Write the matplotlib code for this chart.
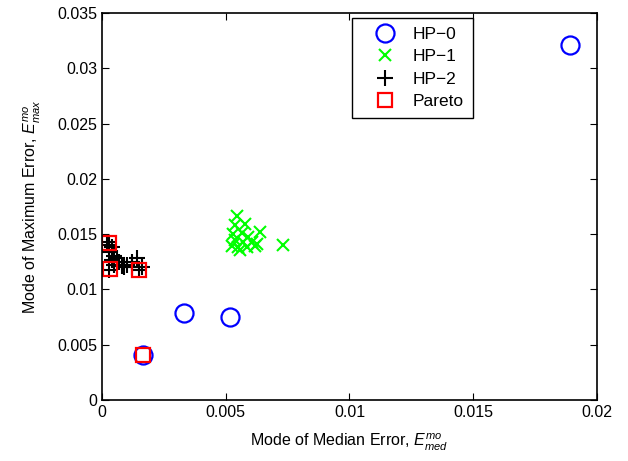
# -*- coding: utf-8 -*-
import numpy as np
import matplotlib
matplotlib.use("Agg")
import matplotlib.pyplot as plt

plt.rcParams['font.family'] = ['Liberation Sans', 'DejaVu Sans']
plt.rcParams['mathtext.fontset'] = 'custom'
plt.rcParams['mathtext.it'] = 'Liberation Sans:italic'
plt.rcParams['mathtext.rm'] = 'Liberation Sans'

# HP-0
hp0_x = [0.01891, 0.00331, 0.00517, 0.00165]
hp0_y = [0.0321, 0.00787, 0.0075, 0.00407]

# HP-1
hp1_x = [0.00544, 0.00537, 0.00578, 0.00638, 0.00531, 0.00564, 0.00591, 0.00537,
         0.00571, 0.00605, 0.00625, 0.00524, 0.00551, 0.00585, 0.00618, 0.00558, 0.00733]
hp1_y = [0.0166, 0.0158, 0.0159, 0.0152, 0.0150, 0.0151, 0.0147, 0.0145,
         0.0143, 0.0143, 0.0141, 0.0139, 0.0138, 0.0138, 0.0139, 0.0136, 0.0140]

# HP-2
hp2_x = [0.0002, 0.0003, 0.0004, 0.0003, 0.0005, 0.0004, 0.0006, 0.0007, 0.0005,
         0.0008, 0.0010, 0.0012, 0.0012, 0.0014, 0.0015, 0.0003, 0.0016, 0.0009]
hp2_y = [0.0143, 0.0140, 0.0138, 0.0134, 0.0130, 0.0127, 0.0128, 0.0125, 0.0122,
         0.0121, 0.0122, 0.0125, 0.0120, 0.0128, 0.0118, 0.0118, 0.0120, 0.0120]

# Pareto
par_x = [0.00028, 0.00032, 0.0015, 0.00165]
par_y = [0.0142, 0.01184, 0.0118, 0.00407]

fig = plt.figure(figsize=(6.28, 4.61), dpi=100)
ax = fig.add_axes([0.1624, 0.1323, 0.7882, 0.8395])

ax.plot(hp0_x, hp0_y, 'o', mfc='none', mec='blue', mew=1.6, ms=13, label='HP\u22120')
ax.plot(hp1_x, hp1_y, 'x', color=(0, 1, 0), mew=1.5, ms=9, label='HP\u22121')
ax.plot(hp2_x, hp2_y, '+', color='black', mew=1.5, ms=11, label='HP\u22122')
ax.plot(par_x, par_y, 's', mfc='none', mec='red', mew=1.6, ms=10, label='Pareto')

ax.set_xlim(0, 0.02)
ax.set_ylim(0, 0.035)
ax.set_xticks([0, 0.005, 0.01, 0.015, 0.02])
ax.set_xticklabels(['0', '0.005', '0.01', '0.015', '0.02'])
ax.set_yticks([0, 0.005, 0.01, 0.015, 0.02, 0.025, 0.03, 0.035])
ax.set_yticklabels(['0', '0.005', '0.01', '0.015', '0.02', '0.025', '0.03', '0.035'])
ax.tick_params(direction='in', top=True, right=True, labelsize=11.5, length=5, width=0.8)
for s in ax.spines.values():
    s.set_linewidth(1.2)

ax.set_xlabel(r'Mode of Median Error, $E^{mo}_{med}$', fontsize=11.5, labelpad=9)
ax.set_ylabel(r'Mode of Maximum Error, $E^{mo}_{max}$', fontsize=11.5, labelpad=10)

leg = ax.legend(loc='upper left', bbox_to_anchor=(0.505, 0.987), borderaxespad=0,
                fontsize=12.5, fancybox=False, edgecolor='black', framealpha=1,
                borderpad=0.5, handlelength=2.8, handletextpad=0.22, labelspacing=0.42)
leg.get_frame().set_linewidth(1.0)

plt.savefig('out.png', dpi=100)
